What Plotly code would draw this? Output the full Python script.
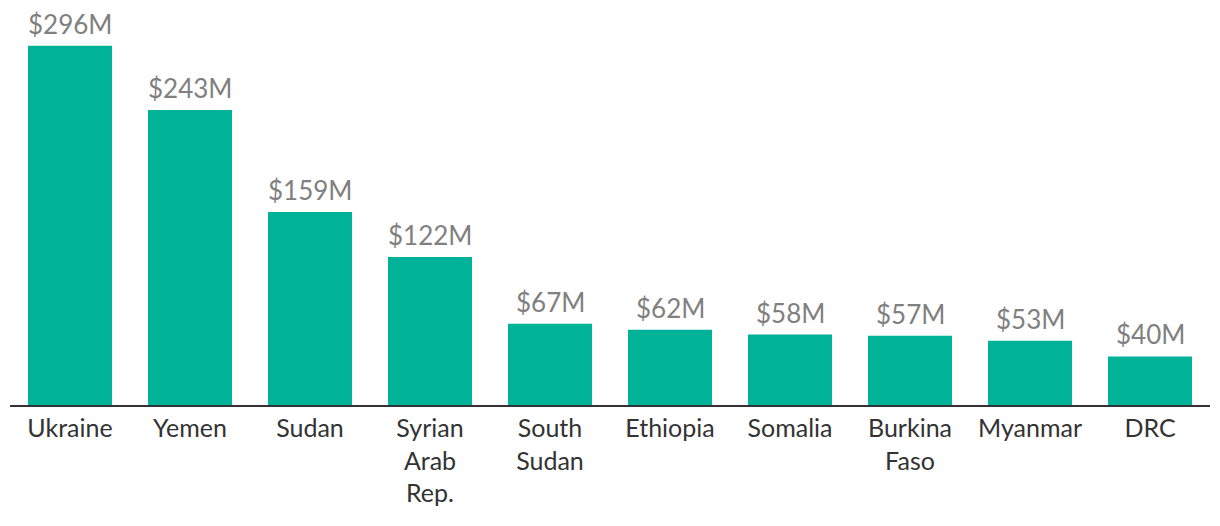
import plotly.graph_objects as go

countries = ["Ukraine", "Yemen", "Sudan", "Syrian<br>Arab<br>Rep.", "South<br>Sudan",
             "Ethiopia", "Somalia", "Burkina<br>Faso", "Myanmar", "DRC"]
values = [296, 243, 159, 122, 67, 62, 58, 57, 53, 40]
labels = [f"${v}M" for v in values]

fig = go.Figure(go.Bar(
    x=countries, y=values,
    marker=dict(color="#00B398", line=dict(width=0)),
    hoverinfo="skip",
))
for c, v, t in zip(countries, values, labels):
    fig.add_annotation(x=c, y=v, text=t, showarrow=False, yanchor="bottom",
                       yshift=4, font=dict(family="Lato", size=26, color="#808080"))
fig.update_layout(
    width=1220, height=526,
    margin=dict(l=2, r=18, t=0, b=129),
    paper_bgcolor="white", plot_bgcolor="white",
    bargap=0.3, showlegend=False,
    font=dict(family="Lato", size=25, color="#333333"),
    xaxis=dict(showline=True, linecolor="#333333", linewidth=2, ticks="",
               automargin=False,
               tickfont=dict(family="Lato", size=25, color="#333333"), fixedrange=True),
    yaxis=dict(range=[0, 327], visible=False, showgrid=False, zeroline=False,
               automargin=False),
)
fig.write_html("out.html")
